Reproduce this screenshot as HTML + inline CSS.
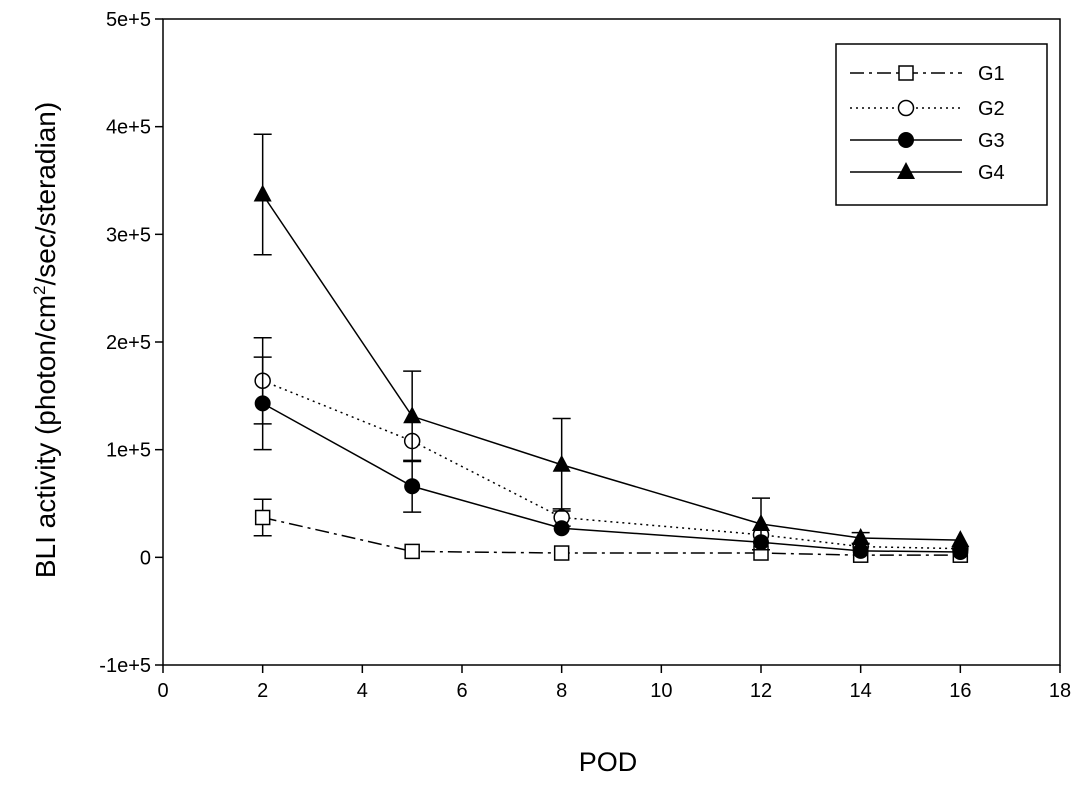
<!DOCTYPE html>
<html><head><meta charset="utf-8"><style>
body{margin:0;background:#fff;}
text{font-family:"Liberation Sans","DejaVu Sans",sans-serif;fill:#000;}
</style></head><body>
<svg id="chart" width="1087" height="783" xmlns="http://www.w3.org/2000/svg">
<rect width="1087" height="783" fill="#fff"/>
<g id="axes"></g><g id="series"></g><g id="legend"></g>
</svg>
<script>
const xCats=[2,5,8,12,14,16];
const g1=[37000,5500,4000,4000,2000,2000];
const g1Err=[17000,0,0,0,0,0];
const g2=[164000,108000,37000,21000,10000,8000];
const g2Err=[40000,0,8000,0,0,0];
const g3=[143000,66000,27000,14000,6000,5000];
const g3Err=[43000,24000,0,0,0,0];
const g4=[337000,131000,86000,31000,18000,16000];
const g4Err=[56000,42000,43000,24000,5000,0];
const yTicks=[-100000,0,100000,200000,300000,400000,500000];
const yTickLabels=["-1e+5","0","1e+5","2e+5","3e+5","4e+5","5e+5"];
const xTicks=[0,2,4,6,8,10,12,14,16,18];

const L=163,R=1060,T=19,B=665;
const xs=v=>L+(v-0)/(18-0)*(R-L);
const ys=v=>B-(v+100000)/600000*(B-T);
const NS="http://www.w3.org/2000/svg";
function mk(tag,attrs,parent,txt){const e=document.createElementNS(NS,tag);for(const k in attrs)e.setAttribute(k,attrs[k]);if(txt!==undefined)e.textContent=txt;parent.appendChild(e);return e;}
const ax=document.getElementById('axes');
let f=mk('rect',{x:L,y:T,width:R-L,height:B-T,fill:'none',stroke:'#000','stroke-width':1.5},ax);


yTicks.forEach((t,i)=>{const y=ys(t);
 let l=mk('line',{x1:L-8,x2:L,y1:y,y2:y,stroke:'#000','stroke-width':1.5},ax);
 
 
 let tx=mk('text',{x:L-12,y:y+7,'text-anchor':'end','font-size':20},ax,yTickLabels[i]);
 
 
});
xTicks.forEach(t=>{const x=xs(t);
 let l=mk('line',{x1:x,x2:x,y1:B,y2:B+8,stroke:'#000','stroke-width':1.5},ax);
 
 
 let tx=mk('text',{x:x,y:B+32,'text-anchor':'middle','font-size':20},ax,String(t));
 
 
});
let xt=mk('text',{x:608,y:771,'text-anchor':'middle','font-size':27},ax,'POD');


let yt=mk('text',{x:0,y:0,'text-anchor':'middle','font-size':28,transform:'translate(55,340) rotate(-90)'},ax);
yt.innerHTML='BLI activity (photon/cm<tspan font-size="17" dy="-10">2</tspan><tspan dy="10">/sec/steradian)</tspan>';



const series=[
 {name:'G1',vals:g1,err:g1Err,dash:'14 5 3 5',marker:'square-open'},
 {name:'G2',vals:g2,err:g2Err,dash:'2 4',marker:'circle-open'},
 {name:'G3',vals:g3,err:g3Err,dash:'',marker:'circle-filled'},
 {name:'G4',vals:g4,err:g4Err,dash:'',marker:'triangle-filled'}];
function marker(m,x,y,p){
 if(m==='square-open')return mk('rect',{x:x-7,y:y-7,width:14,height:14,fill:'#fff',stroke:'#000','stroke-width':1.5},p);
 if(m==='circle-open')return mk('circle',{cx:x,cy:y,r:7.5,fill:'#fff',stroke:'#000','stroke-width':1.5},p);
 if(m==='circle-filled')return mk('circle',{cx:x,cy:y,r:8,fill:'#000'},p);
 return mk('polygon',{points:`${x},${y-10} ${x+9},${y+7} ${x-9},${y+7}`,fill:'#000'},p);
}
const sg=document.getElementById('series');
series.forEach(s=>{
 const g=mk('g',{},sg);
 
 
 s.vals.forEach((v,i)=>{if(s.err[i]>0){const x=xs(xCats[i]),y1=ys(v+s.err[i]),y2=ys(v-s.err[i]);
  let e=mk('path',{d:`M${x},${y1}V${y2}M${x-9},${y1}H${x+9}M${x-9},${y2}H${x+9}`,stroke:'#000','stroke-width':1.5,fill:'none'},g);
  
  }});
 let pl=mk('polyline',{points:s.vals.map((v,i)=>xs(xCats[i])+','+ys(v)).join(' '),fill:'none',stroke:'#000','stroke-width':1.5,'stroke-dasharray':s.dash},g);
 
 
 s.vals.forEach((v,i)=>{let mm=marker(s.marker,xs(xCats[i]),ys(v),g);
  
  });
});
const lg=document.getElementById('legend');
let lb=mk('rect',{x:836,y:44,width:211,height:161,fill:'#fff',stroke:'#000','stroke-width':1.5},lg);


[73,108,140,172].forEach((y,i)=>{const s=series[i];
 let l=mk('line',{x1:850,x2:962,y1:y,y2:y,stroke:'#000','stroke-width':1.5,'stroke-dasharray':s.dash},lg);
 
 
 let mm=marker(s.marker,906,y,lg);
 
 
 let t=mk('text',{x:978,y:y+7,'font-size':20},lg,s.name);
 
 
});
</script>
</body></html>
